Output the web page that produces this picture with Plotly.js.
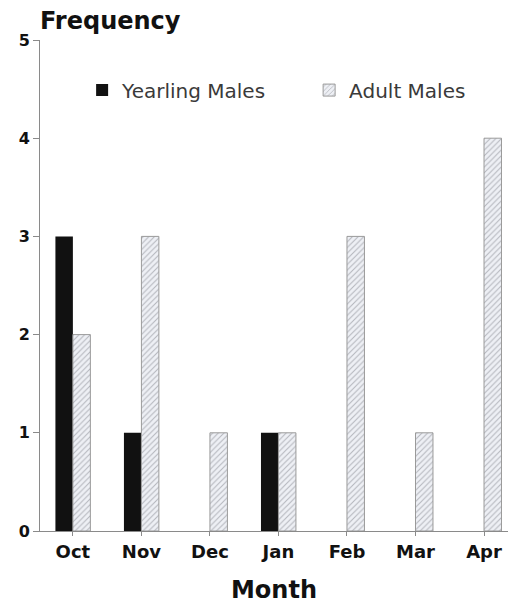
<!DOCTYPE html>
<html>
<head>
<meta charset="utf-8">
<script src="https://cdn.plot.ly/plotly-3.0.1.min.js"></script>
<style>html,body{margin:0;padding:0;background:#fff;}#chart{width:508px;height:605px;}</style>
</head>
<body>
<div id="chart"></div>
<script>
const months = ["Oct", "Nov", "Dec", "Jan", "Feb", "Mar", "Apr"];
const yearlingMales = [3, 1, 0, 1, 0, 0, 0];
const adultMales = [2, 3, 1, 1, 3, 1, 4];
const yTicks = [0, 1, 2, 3, 4, 5];

const FONT = "DejaVu Sans, Verdana, sans-serif";

const traces = [
  {
    type: "bar",
    name: "Yearling Males",
    x: months,
    y: yearlingMales,
    marker: { color: "#111111", line: { color: "#111111", width: 0 } },
    hoverinfo: "x+y+name"
  },
  {
    type: "bar",
    name: "Adult Males",
    x: months,
    y: adultMales,
    marker: {
      color: "#eef0f5",
      line: { color: "#9a9a9a", width: 1 },
      pattern: { shape: "/", bgcolor: "#eef0f5", fgcolor: "#b4b6bc", size: 4, solidity: 0.25 }
    },
    hoverinfo: "x+y+name"
  }
];

const layout = {
  width: 508,
  height: 605,
  margin: { l: 40, r: 0, t: 40, b: 74, autoexpand: false },
  paper_bgcolor: "#ffffff",
  plot_bgcolor: "#ffffff",
  font: { family: FONT, color: "#111" },
  barmode: "group",
  bargap: 0.49,
  bargroupgap: 0,
  title: {
    text: "Frequency",
    font: { family: FONT, size: 24, weight: "bold", color: "#111" },
    xref: "container", x: 40 / 508, xanchor: "left",
    yref: "container", y: 1 - 21 / 605, yanchor: "middle"
  },
  xaxis: {
    type: "category",
    range: [-0.48, 6.35],
    showline: true, linecolor: "#8a8a8a", linewidth: 1,
    ticks: "outside", ticklen: 4, tickcolor: "#8a8a8a",
    showgrid: false, zeroline: false,
    tickangle: 0,
    tickfont: { family: FONT, size: 18, weight: "bold", color: "#111" },
    title: { text: "Month", font: { family: FONT, size: 24, weight: "bold", color: "#111" }, standoff: 20 }
  },
  yaxis: {
    range: [0, 5],
    tickvals: yTicks,
    showline: true, linecolor: "#8a8a8a", linewidth: 1,
    ticks: "outside", ticklen: 6, tickcolor: "#8a8a8a",
    showgrid: false, zeroline: false,
    tickfont: { family: FONT, size: 16, weight: "bold", color: "#111" }
  },
  showlegend: true,
  legend: {
    orientation: "h",
    x: 0.09, xanchor: "left",
    y: 0.898, yanchor: "middle",
    font: { family: FONT, size: 20, color: "#3a3a3a" },
    entrywidth: 182,
    bgcolor: "rgba(0,0,0,0)",
    traceorder: "normal"
  }
};

Plotly.newPlot("chart", traces, layout, { displayModeBar: false, staticPlot: true });
</script>
</body>
</html>
